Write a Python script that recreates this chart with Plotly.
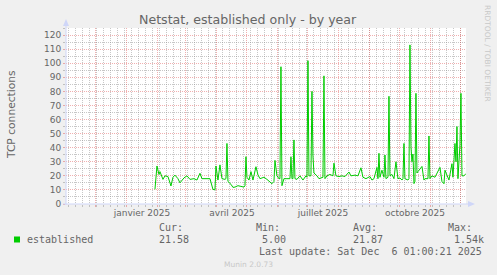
import plotly.graph_objects as go
from datetime import datetime, timedelta

# ---------------- data ----------------
base_date = datetime(2024, 11, 1)
day_offsets = [89, 91, 93, 94, 97, 99, 102, 105, 107, 109, 112, 114, 118, 121, 124, 128, 131, 134, 136, 138,
               141, 144, 147, 149, 150, 152, 154, 156, 159, 160, 161, 162, 165, 167, 169, 172, 175, 178, 179, 180,
               181, 183, 185, 187, 190, 192, 194, 198, 201, 203, 206, 208, 209, 211, 213, 214, 215, 216, 218, 221,
               224, 225, 226, 227, 228, 229, 231, 234, 237, 240, 241, 242, 243, 245, 246, 247, 248, 251, 253, 255,
               257, 258, 259, 261, 264, 267, 268, 270, 273, 276, 279, 283, 285, 289, 292, 295, 297, 300, 304, 306,
               308, 311, 312, 313, 314, 316, 318, 319, 320, 322, 323, 324, 326, 328, 330, 332, 334, 336, 337, 338,
               339, 342, 343, 344, 345, 346, 347, 348, 349, 350, 351, 352, 354, 356, 358, 359, 362, 363, 364, 366,
               369, 371, 374, 376, 378, 379, 382, 383, 386, 387, 389, 390, 391, 392, 394, 395, 396, 398, 400]
established = [10.4, 27, 21, 23, 17.5, 20, 19.5, 12.8, 19, 20.5, 18, 15, 18.5, 20, 17.5, 18, 17, 21.8, 18, 18,
               17.5, 18, 10.4, 10, 27, 17, 27.8, 18, 17.5, 18, 43, 16, 14, 11.8, 12, 13, 12.5, 12, 13, 33.6,
               19, 17, 23, 17, 26.5, 20.7, 18, 19, 17.5, 16.5, 14.4, 16, 31, 20, 18, 18, 97.5, 13, 18, 18,
               18, 33.6, 18, 18, 45.5, 18, 17.5, 20, 17, 20, 19, 101.8, 20, 20, 80, 34, 22, 20, 18, 18.5,
               19, 91, 18, 20, 21, 20, 29, 20, 19.5, 20, 19.5, 22.7, 20, 20.5, 20, 25.7, 19, 18, 19.5, 17,
               18, 26, 18, 36, 19, 24, 19, 34.8, 18, 19, 76.5, 20, 21, 18, 30, 18, 18.5, 17, 18, 43,
               18, 17, 18, 113, 40.7, 30, 35.5, 14.5, 16, 78.6, 22, 23, 25, 26.7, 17, 18, 18, 48.3, 18, 20,
               19, 22, 26, 16, 14.4, 24, 19, 17, 28.6, 19, 43, 30, 55, 18, 42, 78.6, 20, 20, 21.6]
dates = [base_date + timedelta(days=d) for d in day_offsets]

month_starts = ["2024-11-01", "2024-12-01", "2025-01-01", "2025-02-01", "2025-03-01", "2025-04-01",
                "2025-05-01", "2025-06-01", "2025-07-01", "2025-08-01", "2025-09-01", "2025-10-01",
                "2025-11-01", "2025-12-01"]
first_monday = datetime(2024, 11, 4)
week_starts = [first_monday + timedelta(weeks=k) for k in range(57)]
label_dates = ["2025-01-16", "2025-04-16", "2025-07-16", "2025-10-16"]
label_texts = ["janvier 2025", "avril 2025", "juillet 2025", "octobre 2025"]
y_ticks = list(range(0, 121, 10))
y_minor = list(range(5, 126, 10))

legend_name = "established"
stats_heads = ["Cur:", "Min:", "Avg:", "Max:"]
stats_values = ["21.58", " 5.00", "21.87", " 1.54k"]
last_update = "Last update: Sat Dec  6 01:00:21 2025"

x_start = "2024-11-01 01:00"
x_end = "2025-12-06 01:00"

# ---------------- layout helpers ----------------
W, H = 497, 275
L, R, T, B = 66, 31, 28, 71
PW, PH = W - L - R, H - T - B


def px(x):
    return (x - L) / PW


def py(y):
    return 1 - (y - T) / PH


FONT = "DejaVu Sans"
MONO = "DejaVu Sans Mono"
FC = "#666666"
GRID = "rgba(143,143,143,0.5)"
MGRID = "rgba(222,79,79,0.45)"
AXIS = "#CFD6F8"
DOTS = "1px,1px"

fig = go.Figure()
fig.add_trace(go.Scatter(x=dates, y=established, mode="lines",
                         line=dict(color="#00CC00", width=1), hoverinfo="skip",
                         showlegend=False))
# invisible trace on overlay axis for labels
fig.add_trace(go.Scatter(x=[x_start, x_end], y=[0, 0], xaxis="x2", mode="lines",
                         line=dict(width=0), showlegend=False, hoverinfo="skip"))

fig.update_layout(
    width=W, height=H, autosize=False,
    margin=dict(l=L, r=R, t=T, b=B, pad=0),
    paper_bgcolor="#F0F0F0", plot_bgcolor="#FFFFFF",
    font=dict(family=FONT, size=9, color=FC),
    showlegend=False,
    xaxis=dict(type="date", range=[x_start, x_end], tickmode="array", tickvals=month_starts,
               ticktext=[""] * len(month_starts), showgrid=True, gridcolor=MGRID, griddash=DOTS,
               gridwidth=1, ticks="outside", ticklen=2, tickcolor=MGRID, zeroline=False, showline=False,
               minor=dict(tickmode="array", tickvals=week_starts, showgrid=True, gridcolor=GRID,
                          griddash=DOTS, gridwidth=1, ticks="outside", ticklen=2, tickcolor=GRID),
               fixedrange=True),
    xaxis2=dict(type="date", range=[x_start, x_end], overlaying="x", side="bottom",
                tickmode="array", tickvals=label_dates, ticktext=label_texts, showgrid=False,
                ticks="", zeroline=False, showline=False, tickfont=dict(family=FONT, size=9, color=FC),
                ticklabelstandoff=2, fixedrange=True),
    yaxis=dict(range=[0, 125], tickmode="array", tickvals=y_ticks, showgrid=True, gridcolor=MGRID,
               griddash=DOTS, gridwidth=1, ticks="outside", ticklen=2, tickcolor=MGRID,
               zeroline=False, showline=False, tickfont=dict(family=FONT, size=9, color=FC),
               minor=dict(tickmode="array", tickvals=y_minor, showgrid=True, gridcolor=GRID, griddash=DOTS,
                          gridwidth=1, ticks="outside", ticklen=2, tickcolor=GRID),
               fixedrange=True),
)

shapes = []
# axis lines with arrows
shapes.append(dict(type="line", xref="paper", yref="paper", x0=px(66), x1=px(66), y0=py(205), y1=py(24),
                   line=dict(color=AXIS, width=1)))
shapes.append(dict(type="line", xref="paper", yref="paper", x0=px(63), x1=px(470), y0=py(204), y1=py(204),
                   line=dict(color=AXIS, width=1)))
shapes.append(dict(type="path", xref="paper", yref="paper",
                   path=f"M {px(63)},{py(26)} L {px(69)},{py(26)} L {px(66)},{py(19)} Z",
                   fillcolor=AXIS, line=dict(color=AXIS, width=0)))
shapes.append(dict(type="path", xref="paper", yref="paper",
                   path=f"M {px(468)},{py(201)} L {px(468)},{py(207)} L {px(475)},{py(204)} Z",
                   fillcolor=AXIS, line=dict(color=AXIS, width=0)))
# legend colour box
shapes.append(dict(type="rect", xref="paper", yref="paper", x0=px(14), x1=px(20), y0=py(236.5), y1=py(242.5),
                   fillcolor="#00CC00", line=dict(width=0)))
fig.update_layout(shapes=shapes)

ann = []


def text(x, y, s, size, color=FC, family=FONT, xanchor="left", angle=0):
    ann.append(dict(xref="paper", yref="paper", x=px(x), y=py(y), text=s, showarrow=False,
                    xanchor=xanchor, yanchor="middle", textangle=angle,
                    font=dict(family=family, size=size, color=color), borderpad=0))


text(248, 19, "Netstat, established only - by year", 12.6, xanchor="center")
text(11, 114, "TCP connections", 10.7, xanchor="center", angle=-90)
text(487.5, 53.5, "RRDTOOL / TOBI OETIKER", 7.5, color="#C8C8C8", xanchor="center", angle=90)
text(26, 239.5, legend_name, 10, family=MONO)
head_x = [158.3, 255.3, 352, 447]
for hx, h, v in zip(head_x, stats_heads, stats_values):
    text(hx, 227.5, h, 10, family=MONO)
    text(hx, 239.5, v.replace(" ", "&nbsp;"), 10, family=MONO)
text(483, 251.5, last_update.replace(" ", "&nbsp;"), 10, family=MONO, xanchor="right")
text(248, 264, "Munin 2.0.73", 7.5, color="#C8C8C8", xanchor="center")
fig.update_layout(annotations=ann)

fig.write_html("out.html", config={"displayModeBar": False})
